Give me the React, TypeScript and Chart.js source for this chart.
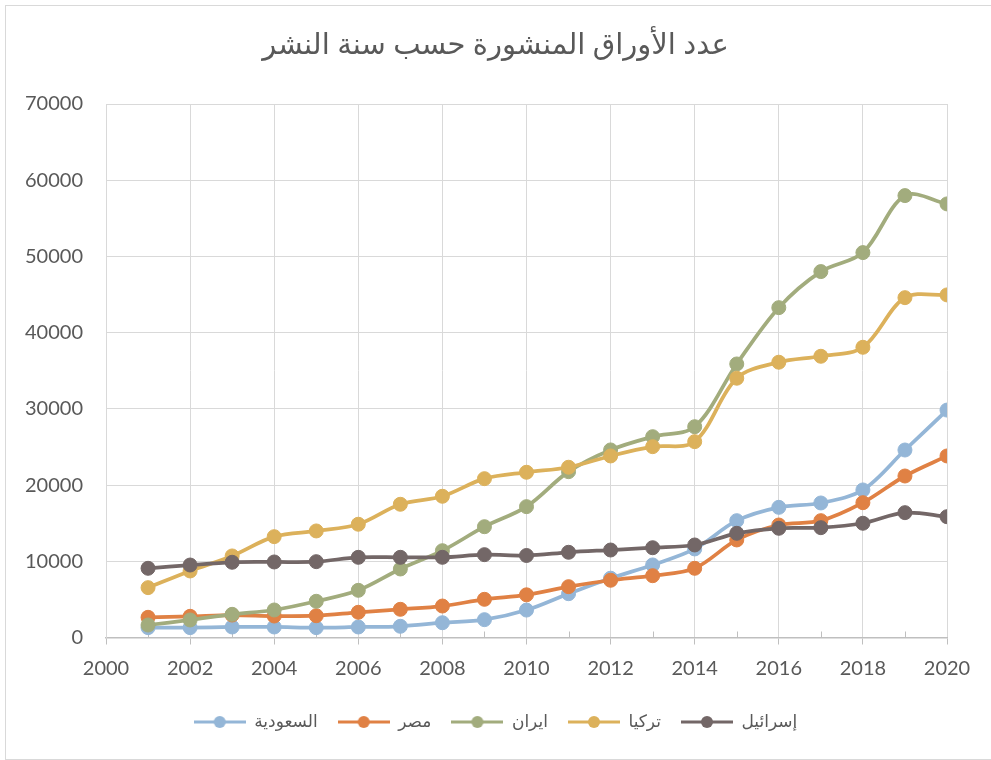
import React, { useEffect, useRef } from "react";
import { Chart, registerables } from "chart.js";

Chart.register(...registerables);

const TITLE = "عدد الأوراق المنشورة حسب سنة النشر";
const YEARS = [2001, 2002, 2003, 2004, 2005, 2006, 2007, 2008, 2009, 2010, 2011, 2012, 2013, 2014, 2015, 2016, 2017, 2018, 2019, 2020];
const SERIES_NAMES = ["السعودية", "مصر", "ايران", "تركيا", "إسرائيل"];
const SAUDI = [1290, 1290, 1380, 1380, 1290, 1380, 1470, 1940, 2340, 3600, 5750, 7780, 9520, 11620, 15330, 17080, 17650, 19360, 24600, 29840];
const EGYPT = [2650, 2780, 2950, 2820, 2860, 3310, 3700, 4130, 5010, 5600, 6670, 7510, 8110, 9080, 12800, 14760, 15330, 17690, 21190, 23820];
const IRAN = [1640, 2300, 3040, 3610, 4750, 6190, 8990, 11390, 14540, 17170, 21760, 24610, 26350, 27660, 35890, 43280, 48010, 50500, 57980, 56890];
const TURKEY = [6540, 8730, 10700, 13230, 13980, 14860, 17480, 18530, 20840, 21680, 22340, 23820, 25040, 25700, 34020, 36120, 36900, 38080, 44590, 44950];
const ISRAEL = [9080, 9510, 9870, 9910, 9950, 10520, 10520, 10520, 10870, 10760, 11180, 11480, 11780, 12140, 13670, 14330, 14410, 14990, 16380, 15850];
const COLORS = ["#94B6D7", "#E08144", "#A2AC7D", "#DCB15B", "#736767"];

const FONT = 'Lato, "DejaVu Sans", sans-serif';
const TEXT = "#595959";

function legendIcon(color: string): HTMLCanvasElement {
  const c = document.createElement("canvas");
  c.width = 52;
  c.height = 14;
  const ctx = c.getContext("2d")!;
  ctx.strokeStyle = color;
  ctx.lineWidth = 3;
  ctx.beginPath();
  ctx.moveTo(0, 7);
  ctx.lineTo(52, 7);
  ctx.stroke();
  ctx.fillStyle = color;
  ctx.beginPath();
  ctx.arc(26, 7, 6, 0, Math.PI * 2);
  ctx.fill();
  return c;
}

const minorTicks = {
  id: "minorTicks",
  beforeDatasetsDraw(chart: any) {
    const x = chart.scales.x;
    const ctx = chart.ctx;
    ctx.save();
    ctx.strokeStyle = "#bfbfbf";
    ctx.lineWidth = 1;
    for (let yr = 2001; yr < 2020; yr += 2) {
      const px = Math.round(x.getPixelForValue(yr)) + 0.5;
      ctx.beginPath();
      ctx.moveTo(px, x.top);
      ctx.lineTo(px, x.top - 6);
      ctx.stroke();
    }
    ctx.restore();
  },
};

export default function App() {
  const ref = useRef<HTMLCanvasElement>(null);
  useEffect(() => {
    const all = [SAUDI, EGYPT, IRAN, TURKEY, ISRAEL];
    const datasets = all.map((vals, i) => ({
      label: SERIES_NAMES[i],
      data: YEARS.map((y, j) => ({ x: y, y: vals[j] })),
      borderColor: COLORS[i],
      backgroundColor: COLORS[i],
      pointBackgroundColor: COLORS[i],
      pointBorderColor: COLORS[i],
      borderWidth: 3.75,
      pointRadius: 7,
      pointBorderWidth: 1,
      tension: 0.33,
      order: 5 - i,
    }));
    const chart = new Chart(ref.current!, {
      type: "line",
      data: { datasets },
      plugins: [minorTicks],
      options: {
        animation: false,
        responsive: true,
        maintainAspectRatio: false,
        layout: { padding: { top: 0, left: 0, right: 0, bottom: 19.5 } },
        plugins: {
          tooltip: { enabled: false },
          title: {
            display: true,
            text: TITLE,
            color: TEXT,
            font: { family: FONT, size: 29, weight: "normal" },
            padding: { top: 27.6, bottom: 41.6 },
          },
          legend: {
            position: "bottom",
            labels: {
              usePointStyle: true,
              pointStyleWidth: 52,
              padding: 20,
              color: TEXT,
              font: { family: FONT, size: 17 },
              generateLabels: () =>
                SERIES_NAMES.map((n, i) => ({
                  text: n,
                  fillStyle: COLORS[i],
                  strokeStyle: COLORS[i],
                  lineWidth: 0,
                  pointStyle: legendIcon(COLORS[i]),
                  datasetIndex: i,
                  hidden: false,
                  fontColor: TEXT,
                })),
            },
          },
        },
        scales: {
          x: {
            type: "linear",
            min: 2000,
            max: 2020,
            afterFit: (s: any) => {
              s.height = 56;
              s.paddingRight = 44;
            },
            ticks: {
              stepSize: 2,
              color: TEXT,
              font: { family: FONT, size: 20 },
              padding: 12.5,
              maxRotation: 0,
              autoSkip: false,
              callback: (v: any) => String(v),
            },
            grid: { color: "#d9d9d9", tickColor: "#bfbfbf", tickLength: 7, lineWidth: 1 },
            border: { color: "#bfbfbf", width: 1.5 },
          },
          y: {
            min: 0,
            max: 70000,
            afterFit: (s: any) => {
              s.width = 106;
            },
            ticks: {
              stepSize: 10000,
              color: TEXT,
              font: { family: FONT, size: 20 },
              padding: 23,
              callback: (v: any) => String(v),
            },
            grid: { color: "#d9d9d9", drawTicks: false, lineWidth: 1 },
            border: { color: "#d9d9d9", width: 1 },
          },
        },
      },
    } as any);
    return () => chart.destroy();
  }, []);

  return (
    <div style={{ position: "absolute", left: 0, top: 0, width: 991, height: 760, background: "#fff", overflow: "hidden" }}>
      <div
        style={{
          position: "absolute",
          left: 5,
          top: 5,
          width: 1010,
          height: 755,
          border: "1px solid #d9d9d9",
          boxSizing: "border-box",
        }}
      />
      <canvas ref={ref} style={{ position: "absolute", left: 0, top: 0, width: 991, height: 760 }} />
    </div>
  );
}
